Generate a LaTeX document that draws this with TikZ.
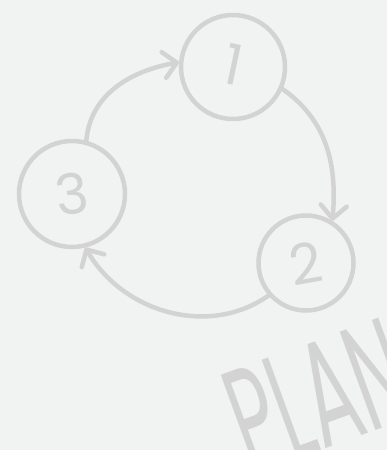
\documentclass[tikz,border=0pt]{standalone}
\usepackage{fontspec}
\newfontfamily\digitfont{Poppins}
\definecolor{sketchgray}{RGB}{211, 211, 211}
\definecolor{paperbg}{RGB}{241, 242, 242}
\usetikzlibrary{arrows.meta, positioning}

\begin{document}
\begin{tikzpicture}[x=1pt, y=1pt,
  stage/.style={draw=sketchgray, circle, line width=4.5pt, inner sep=0pt, text=sketchgray, font=\digitfont\fontsize{56}{56}\selectfont},
  flow/.style={draw=sketchgray, line width=4.5pt, line cap=round, -{Straight Barb[length=13pt, width=26pt, line width=4.5pt, round]}}
]
  \useasboundingbox (0,0) rectangle (387,450);
  \fill[paperbg] (0,0) rectangle (387,450);
  \clip (0,0) rectangle (387,450);

  \node[stage, minimum size=104pt] (n1) at (233,383) {\rotatebox{-12}{\raisebox{4pt}{1}}};
  \node[stage, minimum size=95pt] (n2) at (306,187) {\rotatebox{10}{2}};
  \node[stage, minimum size=106pt] (n3) at (72,256) {\rotatebox{8}{3}};

  \draw[flow] (n3.75) to[out=85, in=190] (n1.175);
  \draw[flow] (n1.-24) to[out=-35, in=85] (n2.58);
  \draw[flow] (n2.221) to[out=215, in=-60] (n3.-76);

  \node[rotate=20, xscale=0.5, text=sketchgray, font=\digitfont\fontsize{150}{150}\selectfont] (plan) at (318,54) {PLAN};
\end{tikzpicture}
\end{document}
